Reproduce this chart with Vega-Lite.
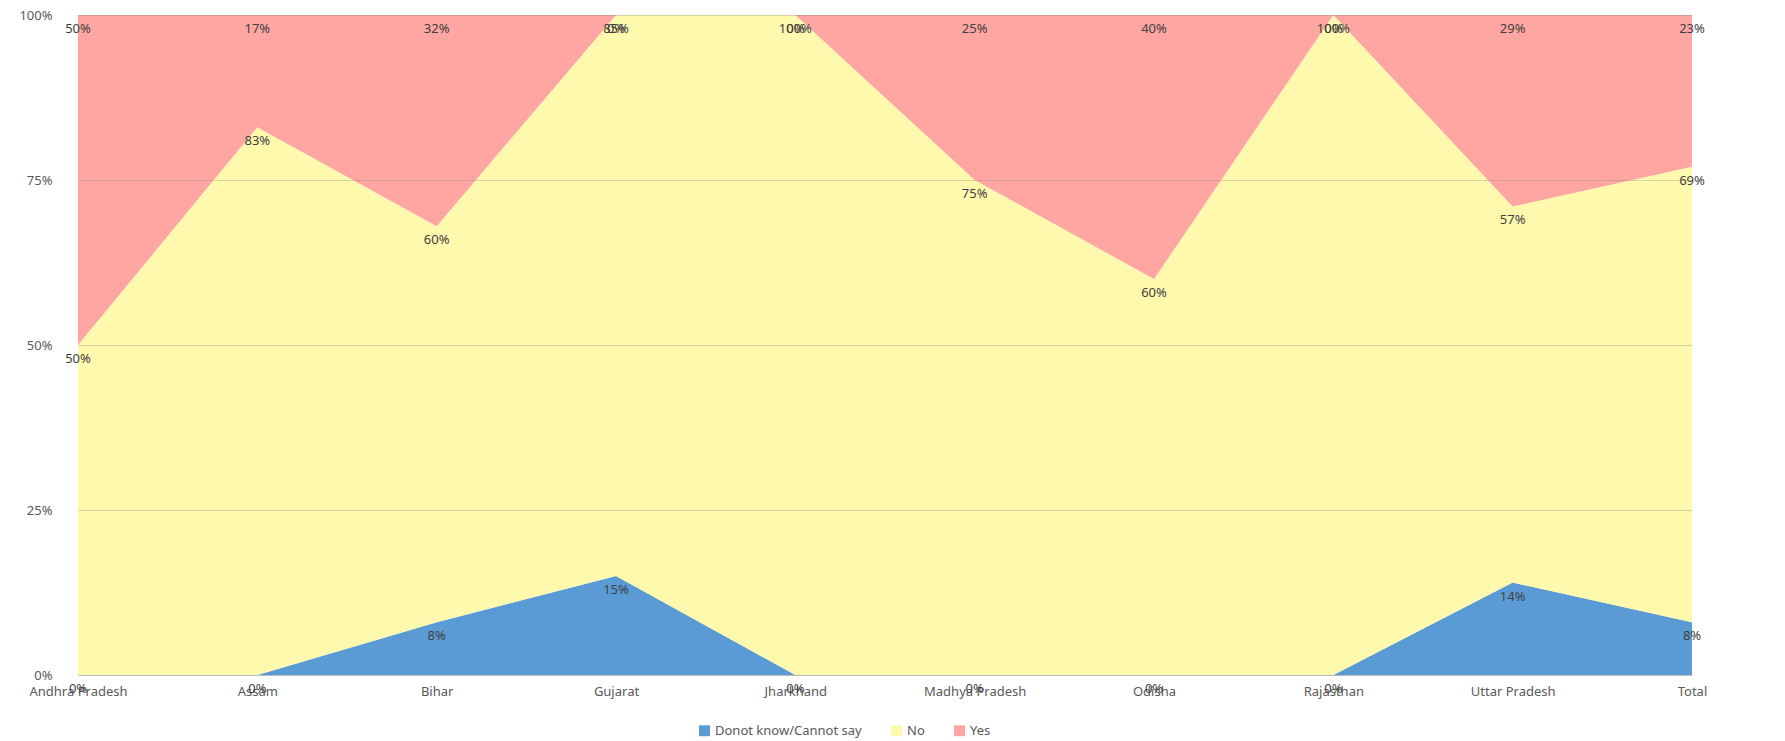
{
  "$schema": "https://vega.github.io/schema/vega-lite/v6.json",
  "width": 1614,
  "height": 660,
  "autosize": {"type": "none"},
  "padding": {"left": 78, "top": 15, "right": 93, "bottom": 66},
  "background": "white",
  "config": {"view": {"stroke": null}, "font": "Noto Sans"},
  "data": {
    "values": [
      {"state": "Andhra Pradesh", "series": "Donot know/Cannot say", "value": 0},
      {"state": "Andhra Pradesh", "series": "No", "value": 0.50},
      {"state": "Andhra Pradesh", "series": "Yes", "value": 0.50},
      {"state": "Assam", "series": "Donot know/Cannot say", "value": 0},
      {"state": "Assam", "series": "No", "value": 0.83},
      {"state": "Assam", "series": "Yes", "value": 0.17},
      {"state": "Bihar", "series": "Donot know/Cannot say", "value": 0.08},
      {"state": "Bihar", "series": "No", "value": 0.60},
      {"state": "Bihar", "series": "Yes", "value": 0.32},
      {"state": "Gujarat", "series": "Donot know/Cannot say", "value": 0.15},
      {"state": "Gujarat", "series": "No", "value": 0.85},
      {"state": "Gujarat", "series": "Yes", "value": 0},
      {"state": "Jharkhand", "series": "Donot know/Cannot say", "value": 0},
      {"state": "Jharkhand", "series": "No", "value": 1.00},
      {"state": "Jharkhand", "series": "Yes", "value": 0},
      {"state": "Madhya Pradesh", "series": "Donot know/Cannot say", "value": 0},
      {"state": "Madhya Pradesh", "series": "No", "value": 0.75},
      {"state": "Madhya Pradesh", "series": "Yes", "value": 0.25},
      {"state": "Odisha", "series": "Donot know/Cannot say", "value": 0},
      {"state": "Odisha", "series": "No", "value": 0.60},
      {"state": "Odisha", "series": "Yes", "value": 0.40},
      {"state": "Rajasthan", "series": "Donot know/Cannot say", "value": 0},
      {"state": "Rajasthan", "series": "No", "value": 1.00},
      {"state": "Rajasthan", "series": "Yes", "value": 0},
      {"state": "Uttar Pradesh", "series": "Donot know/Cannot say", "value": 0.14},
      {"state": "Uttar Pradesh", "series": "No", "value": 0.57},
      {"state": "Uttar Pradesh", "series": "Yes", "value": 0.29},
      {"state": "Total", "series": "Donot know/Cannot say", "value": 0.08},
      {"state": "Total", "series": "No", "value": 0.69},
      {"state": "Total", "series": "Yes", "value": 0.23}
    ]
  },
  "transform": [
    {"stack": "value", "groupby": ["state"], "sort": [{"field": "series", "order": "ascending"}], "as": ["v0", "v1"]}
  ],
  "layer": [
    {
      "mark": {"type": "area", "interpolate": "linear"},
      "encoding": {
        "x": {
          "field": "state", "type": "nominal", "sort": null,
          "scale": {"type": "point", "padding": 0},
          "axis": {"title": null, "labelAngle": 0, "ticks": false, "domainColor": "#d9d9d9", "labelColor": "#595959", "labelFontSize": 13, "labelPadding": 10, "grid": false}
        },
        "y": {
          "field": "v1", "type": "quantitative",
          "scale": {"domain": [0, 1]},
          "axis": {"title": null, "format": ".0%", "values": [0, 0.25, 0.5, 0.75, 1], "ticks": false, "domain": false, "gridColor": "#7f7f7f", "gridOpacity": 0.3, "zindex": 1, "labelPadding": 26, "labelFontSize": 13, "labelColor": "#595959"}
        },
        "y2": {"field": "v0"},
        "color": {
          "field": "series", "type": "nominal",
          "scale": {"domain": ["Donot know/Cannot say", "No", "Yes"], "range": ["#5b9bd5", "#fff9ae", "#ffa6a2"]},
          "legend": {"title": null, "orient": "none", "legendX": 620, "legendY": 709, "direction": "horizontal", "symbolType": "square", "symbolSize": 120, "symbolStrokeWidth": 0, "labelFontSize": 13, "labelColor": "#595959", "columnPadding": 28}
        }
      }
    },
    {
      "mark": {"type": "text", "dy": 14, "fontSize": 13, "color": "#404040", "baseline": "middle"},
      "encoding": {
        "x": {"field": "state", "type": "nominal", "sort": null},
        "y": {"field": "v1", "type": "quantitative"},
        "text": {"field": "value", "type": "quantitative", "format": ".0%"}
      }
    }
  ]
}
